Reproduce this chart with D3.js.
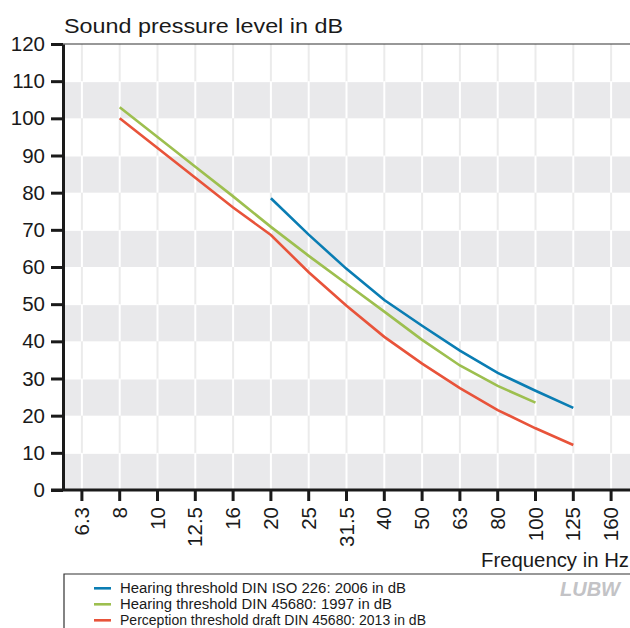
<!DOCTYPE html>
<html><head><meta charset="utf-8">
<script src="https://cdn.jsdelivr.net/npm/d3@7"></script>
<style>body{margin:0;background:#fff}svg{display:block}text{font-family:"Liberation Sans",Arial,sans-serif;fill:#1a1a1a}</style>
</head><body>
<script>
const categories = ["6.3","8","10","12.5","16","20","25","31.5","40","50","63","80","100","125","160"];
const isoValues = [null,null,null,null,null,78.5,68.7,59.5,51.1,44.2,37.5,31.5,26.7,22.1,null];
const din1997Values = [null,103,95,87,79,70.8,63,55.5,48,40.4,33.5,28,23.5,null,null];
const draft2013Values = [null,100,92,84,76,68.6,58.6,49.6,41.2,34,27.4,21.5,16.6,12.1,null];
const yTicks = [0,10,20,30,40,50,60,70,80,90,100,110,120];
const seriesNames = ["Hearing threshold DIN ISO 226: 2006 in dB","Hearing threshold DIN 45680: 1997 in dB","Perception threshold draft DIN 45680: 2013 in dB"];
const seriesColors = ["#0a7db3","#9dbf4f","#e8533a"];

const W=630,H=628, L=63, R=630, T=44, B=490;
const svg=d3.select("body").append("svg").attr("width",W).attr("height",H);
const x=d3.scaleBand().domain(categories).range([L,R]);
const y=d3.scaleLinear().domain([0,120]).range([B,T]);
const cx=c=>x(c)+x.bandwidth()/2;

// bands
const bands=[0,20,40,60,80,100];
const g=svg.append("g");
g.selectAll("line.vg").data(categories).join("line")
 .attr("x1",d=>cx(d)).attr("x2",d=>cx(d)).attr("y1",T).attr("y2",B)
 .attr("stroke","#ebebeb").attr("stroke-width",2);
g.selectAll("rect.band").data(bands).join("rect")
 .attr("x",L).attr("width",R-L).attr("y",d=>y(d+10)+1).attr("height",d=>y(d)-y(d+10)-1)
 .attr("fill","#e9e9eb");
bands.forEach(b=>{
  g.selectAll(null).data(categories).join("line")
   .attr("x1",d=>cx(d)).attr("x2",d=>cx(d)).attr("y1",y(b+10)).attr("y2",y(b))
   .attr("stroke","#fff").attr("stroke-width",2);
});

// top border
svg.append("line").attr("x1",L).attr("x2",R).attr("y1",T).attr("y2",T).attr("stroke","#333").attr("stroke-width",1.2);

// series
const allSeries=[isoValues,din1997Values,draft2013Values];
const line=d3.line().defined(d=>d.v!=null).x(d=>cx(d.c)).y(d=>y(d.v));
allSeries.forEach((vals,i)=>{
  svg.append("path").datum(categories.map((c,j)=>({c,v:vals[j]})))
   .attr("d",line).attr("fill","none").attr("stroke",seriesColors[i]).attr("stroke-width",2.6);
});

// axes
const yAxis=svg.append("g").attr("transform",`translate(${L},0)`)
 .call(d3.axisLeft(y).tickValues(yTicks).tickSize(12).tickPadding(6).tickSizeOuter(0));
yAxis.select(".domain").attr("stroke","#1a1a1a").attr("stroke-width",3);
yAxis.selectAll(".tick line").attr("stroke","#1a1a1a").attr("stroke-width",3);
yAxis.selectAll(".tick text").attr("font-size",20.5).attr("fill","#1a1a1a").attr("font-family","Liberation Sans, Arial, sans-serif");

const xAxis=svg.append("g").attr("transform",`translate(0,${B})`)
 .call(d3.axisBottom(x).tickSize(11).tickSizeOuter(0));
xAxis.select(".domain").attr("stroke","#1a1a1a").attr("stroke-width",3).attr("d",`M${L-12},0H${R}`);
xAxis.selectAll(".tick line").attr("stroke","#1a1a1a").attr("stroke-width",3);
xAxis.selectAll(".tick text").attr("font-size",20.5).attr("fill","#1a1a1a")
 .attr("font-family","Liberation Sans, Arial, sans-serif")
 .attr("transform","rotate(-90)").attr("text-anchor","end").attr("x",-17).attr("y",0).attr("dy","0.35em");

// titles
svg.append("text").attr("x",64).attr("y",33).attr("font-size",21).attr("textLength",279).attr("lengthAdjust","spacingAndGlyphs").text("Sound pressure level in dB");
svg.append("text").attr("x",629).attr("y",567).attr("font-size",20).attr("text-anchor","end").attr("textLength",148).attr("lengthAdjust","spacingAndGlyphs").text("Frequency in Hz");

// legend
svg.append("path").attr("d",`M${R},574H64V628`).attr("fill","none").attr("stroke","#333").attr("stroke-width",1.2);
const lg=svg.append("g");
const legendLen=[286,272,306];
seriesNames.forEach((n,i)=>{
  const yy=588.3+i*16;
  lg.append("line").attr("x1",94).attr("x2",111).attr("y1",yy).attr("y2",yy).attr("stroke",seriesColors[i]).attr("stroke-width",2.6);
  lg.append("text").attr("x",120).attr("y",yy+5).attr("font-size",14).attr("textLength",legendLen[i]).attr("lengthAdjust","spacingAndGlyphs").text(n);
});
// logo
svg.append("text").attr("x",560).attr("y",596).attr("font-size",19.5).attr("font-weight","bold").attr("font-style","italic")
 .attr("style","fill:#c3c3c6").attr("textLength",60).attr("lengthAdjust","spacingAndGlyphs").text("LUBW");
</script>
</body></html>
